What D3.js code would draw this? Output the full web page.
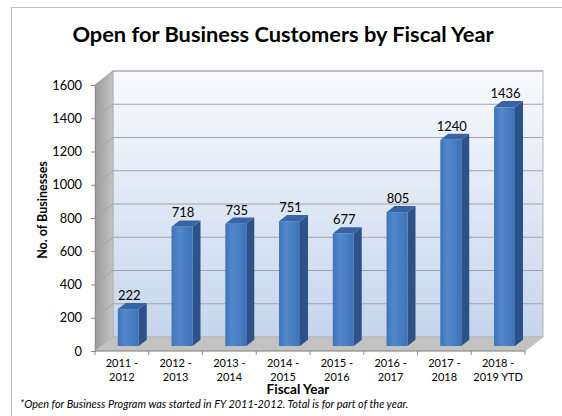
<!DOCTYPE html>
<html>
<head>
<meta charset="utf-8">
<script src="https://cdn.jsdelivr.net/npm/d3@7"></script>
<style>
  html, body { margin: 0; padding: 0; background: #fff; }
  svg { display: block; font-family: Lato, "Open Sans", sans-serif; }
</style>
</head>
<body>
<svg id="chart" width="562" height="416"></svg>
<script>
// Fiscal years and the customer count for each
const categories = ["2011 - 2012", "2012 - 2013", "2013 - 2014", "2014 - 2015",
                    "2015 - 2016", "2016 - 2017", "2017 - 2018", "2018 - 2019 YTD"];
const customers = [222, 718, 735, 751, 677, 805, 1240, 1436];
const yTicks = [0, 200, 400, 600, 800, 1000, 1200, 1400, 1600];

const svg = d3.select("#chart");

// Plot frame (front plane) and the depth offset of the 3-D box
const x0 = 95, x1 = 525, yTop = 85, yBot = 351;
const DX = 18, DY = -14;
const barOff = { dx: 6.4, dy: -5 };   // bars stand part way back on the floor
const barDepth = { dx: 8, dy: -6.2 };

const x = d3.scaleBand(categories, [x0, x1]).paddingInner(0.61).paddingOuter(0.305);
const xStep = d3.scaleBand(categories, [x0, x1]);
const y = d3.scaleLinear([0, 1600], [yBot, yTop]);

const defs = svg.append("defs");
const gWall = defs.append("linearGradient").attr("id", "wall").attr("x1", 0).attr("y1", 0).attr("x2", 0).attr("y2", 1);
gWall.append("stop").attr("offset", "0%").attr("stop-color", "#f8fafd");
gWall.append("stop").attr("offset", "100%").attr("stop-color", "#c6d5ed");
const gSide = defs.append("linearGradient").attr("id", "side").attr("x1", 0).attr("y1", 0).attr("x2", 1).attr("y2", 0);
gSide.append("stop").attr("offset", "0%").attr("stop-color", "#9a9a9a");
gSide.append("stop").attr("offset", "100%").attr("stop-color", "#c4c4c4");
const gBar = defs.append("linearGradient").attr("id", "barFront").attr("x1", 0).attr("y1", 0).attr("x2", 1).attr("y2", 0);
gBar.append("stop").attr("offset", "0%").attr("stop-color", "#3f73b8");
gBar.append("stop").attr("offset", "35%").attr("stop-color", "#5288cd");
gBar.append("stop").attr("offset", "100%").attr("stop-color", "#3e72b7");

// Outer chart border
svg.append("rect")
  .attr("x", 11.5).attr("y", 7.5).attr("width", 600).attr("height", 500)
  .attr("fill", "none").attr("stroke", "#bfbfbf");

// Title
svg.append("text")
  .attr("x", 283).attr("y", 42)
  .attr("text-anchor", "middle")
  .attr("font-size", 21.8).attr("font-weight", "bold").attr("fill", "#000")
  .text("Open for Business Customers by Fiscal Year");

// Back wall
svg.append("rect")
  .attr("x", x0 + DX).attr("y", yTop + DY)
  .attr("width", x1 - x0).attr("height", yBot - yTop)
  .attr("fill", "url(#wall)").attr("stroke", "#b3b3b3");

// Left side wall
const pts = p => p.map(d => d.join(",")).join(" ");
svg.append("polygon")
  .attr("points", pts([[x0, yTop], [x0 + DX, yTop + DY], [x0 + DX, yBot + DY], [x0, yBot]]))
  .attr("fill", "url(#side)").attr("stroke", "#a6a6a6").attr("stroke-width", 0.6);

// Floor
svg.append("polygon")
  .attr("points", pts([[x0, yBot], [x1, yBot], [x1 + DX, yBot + DY], [x0 + DX, yBot + DY]]))
  .attr("fill", "#c2c2c2").attr("stroke", "#b0b0b0").attr("stroke-width", 0.6);

// Gridlines on the back and side walls
const grid = svg.append("g").attr("stroke", "#a3a3a3").attr("stroke-width", 1);
yTicks.filter(v => v > 0).forEach(v => {
  grid.append("line")
    .attr("x1", x0 + DX).attr("x2", x1 + DX)
    .attr("y1", y(v) + DY).attr("y2", y(v) + DY);
  grid.append("line")
    .attr("x1", x0).attr("y1", y(v))
    .attr("x2", x0 + DX).attr("y2", y(v) + DY);
});

// Y axis
const yAxis = svg.append("g")
  .attr("transform", `translate(${x0},0)`)
  .call(d3.axisLeft(y).tickValues(yTicks).tickFormat(d3.format("d")).tickSize(4).tickPadding(9));
yAxis.select(".domain").attr("stroke", "#8c8c8c");
yAxis.selectAll(".tick line").attr("stroke", "#8c8c8c");
yAxis.selectAll(".tick text")
  .attr("font-family", "Lato, sans-serif").attr("font-size", 12.8).attr("fill", "#000");

// X axis: ticks at category boundaries, two-line labels at centres
const xAxis = svg.append("g").attr("transform", `translate(0,${yBot})`);
xAxis.append("line").attr("x1", x0).attr("x2", x1).attr("stroke", "#8c8c8c");
categories.concat([null]).forEach(c => {
  const bx = c === null ? x1 : xStep(c);
  xAxis.append("line").attr("x1", bx).attr("x2", bx).attr("y1", 0).attr("y2", 4).attr("stroke", "#8c8c8c");
});
categories.forEach(c => {
  const parts = c.split(" - ");
  const cx = xStep(c) + xStep.bandwidth() / 2;
  const t = xAxis.append("text")
    .attr("text-anchor", "middle")
    .attr("font-size", 11).attr("fill", "#000");
  t.append("tspan").attr("x", cx).attr("y", 16).text(parts[0] + " -");
  t.append("tspan").attr("x", cx).attr("y", 29.5).text(parts[1]);
});

// Bars (front, side and top faces)
const bars = svg.append("g");
categories.forEach((c, i) => {
  const v = customers[i];
  const fx = x(c) + barOff.dx, w = x.bandwidth();
  const fTop = y(v) + barOff.dy, fBot = y(0) + barOff.dy;
  const g = bars.append("g");
  g.append("polygon")
    .attr("points", pts([[fx + w, fTop], [fx + w + barDepth.dx, fTop + barDepth.dy],
                         [fx + w + barDepth.dx, fBot + barDepth.dy], [fx + w, fBot]]))
    .attr("fill", "#2c5289");
  g.append("polygon")
    .attr("points", pts([[fx, fTop], [fx + barDepth.dx, fTop + barDepth.dy],
                         [fx + w + barDepth.dx, fTop + barDepth.dy], [fx + w, fTop]]))
    .attr("fill", "#3863a4");
  g.append("rect")
    .attr("x", fx).attr("y", fTop).attr("width", w).attr("height", fBot - fTop)
    .attr("fill", "url(#barFront)");
  g.append("text")
    .attr("x", fx + w / 2 + 1).attr("y", fTop + barDepth.dy - 3)
    .attr("text-anchor", "middle")
    .attr("font-size", 13).attr("fill", "#000")
    .text(v);
});

// Axis titles
svg.append("text")
  .attr("transform", "translate(47,210) rotate(-90)")
  .attr("text-anchor", "middle")
  .attr("font-size", 12.5).attr("font-weight", "bold")
  .text("No. of Businesses");
svg.append("text")
  .attr("x", 298).attr("y", 394)
  .attr("text-anchor", "middle")
  .attr("font-size", 13.5).attr("font-weight", "bold")
  .text("Fiscal Year");

// Footnote
svg.append("text")
  .attr("x", 20).attr("y", 408)
  .attr("font-size", 10.9).attr("font-style", "italic")
  .text("*Open for Business Program was started in FY 2011-2012. Total is for part of the year.");
</script>
</body>
</html>
